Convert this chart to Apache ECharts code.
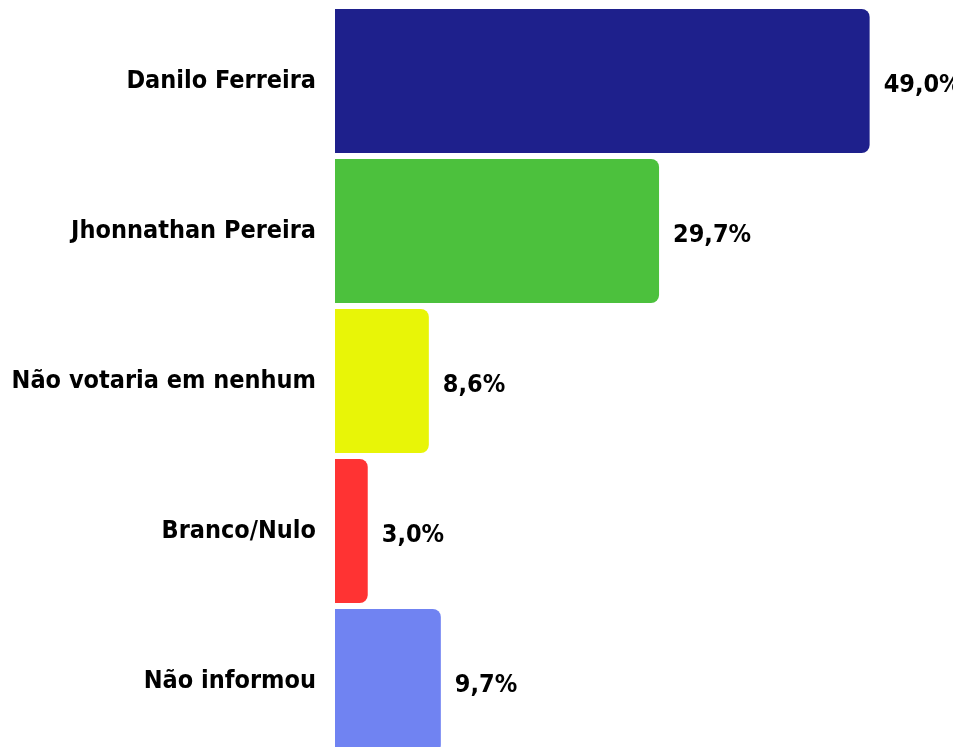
<!DOCTYPE html>
<html>
<head>
<meta charset="utf-8">
<script src="https://cdn.jsdelivr.net/npm/echarts@6/dist/echarts.min.js"></script>
<style>
    html, body { margin: 0; padding: 0; background: #fff; }
    #chart { width: 953px; height: 747px; }
</style>
</head>
<body>
<div id="chart"></div>
<script>
var categories = ['Danilo Ferreira', 'Jhonnathan Pereira', 'Não votaria em nenhum', 'Branco/Nulo', 'Não informou'];
var values = [49.0, 29.7, 8.6, 3.0, 9.7];
var colors = ['#1e208c', '#4cc13d', '#e8f507', '#ff3333', '#7083f2'];

~function () {
    var myChart = echarts.init(document.getElementById('chart'));
    var font = '"DejaVu Sans Condensed", "Noto Sans", sans-serif';
    var option = {
        animation: false,
        grid: {
            left: 335,
            right: 7,
            top: 6,
            bottom: -9,
            containLabel: false,
            outerBoundsMode: 'none'
        },
        xAxis: {
            type: 'value',
            min: 0,
            max: 56,
            show: false
        },
        yAxis: {
            type: 'category',
            inverse: true,
            data: categories,
            axisLine: {show: false},
            axisTick: {show: false},
            axisLabel: {
                margin: 19,
                color: '#000',
                fontFamily: font,
                fontWeight: 'bold',
                fontSize: 25
            }
        },
        series: [
            {
                type: 'bar',
                barCategoryGap: '4%',
                data: values.map(function (v, i) {
                    return {value: v, itemStyle: {color: colors[i]}};
                }),
                itemStyle: {
                    borderRadius: [0, 8, 8, 0]
                },
                label: {
                    show: true,
                    position: 'right',
                    distance: 14,
                    offset: [0, 4],
                    color: '#000',
                    fontFamily: font,
                    fontWeight: 'bold',
                    fontSize: 25,
                    formatter: function (p) {
                        return p.value.toFixed(1).replace('.', ',') + '%';
                    }
                }
            }
        ]
    };
    myChart.setOption(option);
}();
</script>
</body>
</html>
